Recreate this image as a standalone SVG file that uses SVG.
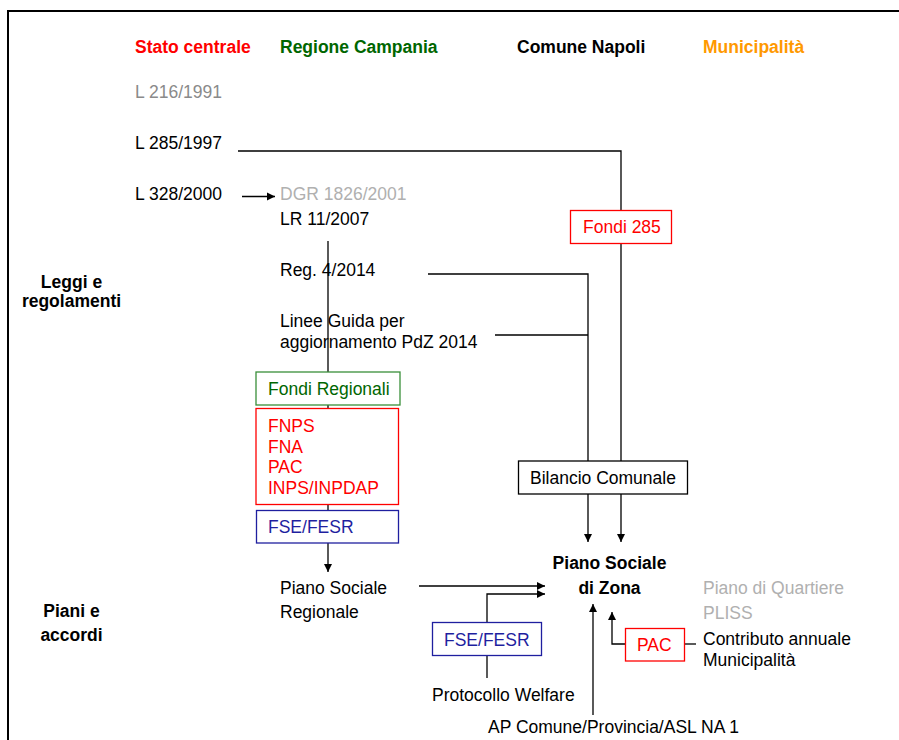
<svg xmlns="http://www.w3.org/2000/svg" width="899" height="740" viewBox="0 0 899 740">
<style>
text{font-family:"Liberation Sans",Arial,Helvetica,sans-serif;font-size:17.5px;fill:#000}
.b{font-weight:bold}
.red{fill:#ff0000}.grn{fill:#006600}.org{fill:#ff9900}.gry{fill:#8a8a8a}.lgr{fill:#b0b0b0}.blu{fill:#1f1f9f}
.mid{text-anchor:middle}
.ln{fill:none;stroke:#000;stroke-width:1.3}
.box{fill:#fff;stroke-width:1.3}
</style>
<defs>
<marker id="ah" markerUnits="userSpaceOnUse" markerWidth="9" markerHeight="9" refX="8" refY="4.5" orient="auto" viewBox="0 0 9 9">
<path d="M0,0.5 L8,4.5 L0,8.5 z" fill="#000"/>
</marker>
</defs>
<rect width="899" height="740" fill="#fff"/>
<g id="frame">
<line x1="7" y1="11" x2="899" y2="11" stroke="#000" stroke-width="2"/>
<line x1="8" y1="10" x2="8" y2="740" stroke="#000" stroke-width="2"/>
</g>
<g id="connectors">
<polyline class="ln" points="238,151 621,151 621,542" marker-end="url(#ah)"/>
<line class="ln" x1="242" y1="196.5" x2="275" y2="196.5" marker-end="url(#ah)"/>
<line class="ln" x1="328" y1="241" x2="328" y2="572" marker-end="url(#ah)"/>
<polyline class="ln" points="428,274 588,274 588,542" marker-end="url(#ah)"/>
<line class="ln" x1="495" y1="335" x2="588" y2="335"/>
<line class="ln" x1="419" y1="586" x2="545" y2="586" marker-end="url(#ah)"/>
<polyline class="ln" points="487,622 487,594 545,594" marker-end="url(#ah)"/>
<line class="ln" x1="487" y1="655" x2="487" y2="678"/>
<line class="ln" x1="593" y1="715" x2="593" y2="604" marker-end="url(#ah)"/>
<polyline class="ln" points="625,644 612,644 612,612" marker-end="url(#ah)"/>
<line class="ln" x1="684" y1="644" x2="696" y2="644"/>
</g>
<g id="headers">
<text x="135" y="53" class="b red">Stato centrale</text>
<text x="280" y="53" class="b grn">Regione Campania</text>
<text x="517" y="53" class="b">Comune Napoli</text>
<text x="703" y="53" class="b org">Municipalità</text>
</g>
<g id="row-labels">
<text x="71.5" y="288" class="b mid">Leggi e</text>
<text x="71.5" y="307" class="b mid">regolamenti</text>
<text x="71.5" y="617" class="b mid">Piani e</text>
<text x="71.5" y="641" class="b mid">accordi</text>
</g>
<g id="l216"><text x="135" y="98" class="gry">L 216/1991</text></g>
<g id="l285"><text x="135" y="149">L 285/1997</text></g>
<g id="l328"><text x="135" y="200">L 328/2000</text></g>
<g id="dgr"><text x="280" y="200" class="lgr">DGR 1826/2001</text></g>
<g id="lr11"><text x="280" y="225">LR 11/2007</text></g>
<g id="reg4"><text x="280" y="276">Reg. 4/2014</text></g>
<g id="linee"><text x="280" y="327">Linee Guida per</text><text x="280" y="348">aggiornamento PdZ 2014</text></g>
<g id="fondi285"><rect class="box" x="570.5" y="210.5" width="101" height="33" stroke="#ff0000"/><text x="583" y="233" class="red">Fondi 285</text></g>
<g id="fondiRegionali"><rect class="box" x="256" y="372" width="144" height="33" stroke="#3a8f3a"/><text x="268" y="395" class="grn">Fondi Regionali</text></g>
<g id="fondiNazionali"><rect class="box" x="256" y="408.5" width="142.5" height="96" stroke="#ff0000"/>
<text x="268" y="432" class="red">FNPS</text><text x="268" y="452.5" class="red">FNA</text><text x="268" y="473" class="red">PAC</text><text x="268" y="494" class="red">INPS/INPDAP</text></g>
<g id="fseFesr1"><rect class="box" x="256.5" y="510.5" width="142" height="32.5" stroke="#1f1f9f"/><text x="268" y="533" class="blu">FSE/FESR</text></g>
<g id="bilancio"><rect class="box" x="518.5" y="461" width="169" height="33" stroke="#000"/><text x="530" y="484">Bilancio Comunale</text></g>
<g id="pianoSocialeZona"><text x="609.5" y="569" class="b mid">Piano Sociale</text><text x="609.5" y="594" class="b mid">di Zona</text></g>
<g id="pianoSocialeRegionale"><text x="280" y="594">Piano Sociale</text><text x="280" y="618">Regionale</text></g>
<g id="fseFesr2"><rect class="box" x="432.5" y="622.5" width="109" height="33" stroke="#1f1f9f"/><text x="444" y="646" class="blu">FSE/FESR</text></g>
<g id="protocollo"><text x="432" y="701">Protocollo Welfare</text></g>
<g id="apComune"><text x="488" y="733">AP Comune/Provincia/ASL NA 1</text></g>
<g id="pac"><rect class="box" x="625.5" y="628.5" width="59" height="32.5" stroke="#ff0000"/><text x="637" y="651" class="red">PAC</text></g>
<g id="pianoQuartiere"><text x="703" y="594" class="lgr">Piano di Quartiere</text><text x="703" y="619" class="lgr">PLISS</text></g>
<g id="contributo"><text x="703" y="645">Contributo annuale</text><text x="703" y="666">Municipalità</text></g>
</svg>
